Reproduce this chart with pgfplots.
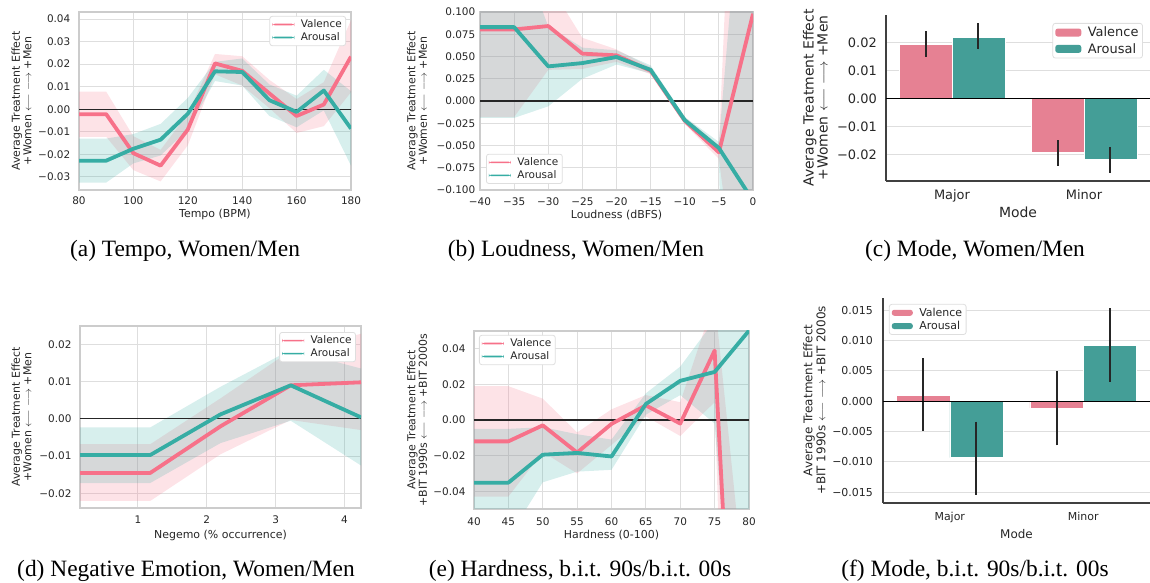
\documentclass[border=0pt]{standalone}
\usepackage{fontspec}
\setmainfont{Liberation Serif}
\newfontfamily\dejavu{DejaVu Sans}
\usepackage{pgfplots}
\usepackage{pgfplotstable}
\pgfplotsset{compat=1.18}
\usepgfplotslibrary{fillbetween}

\definecolor{val}{HTML}{F77189}
\definecolor{aro}{HTML}{36ADA4}
\definecolor{valbar}{HTML}{E68193}
\definecolor{arobar}{HTML}{449E97}
\definecolor{txt}{gray}{0.15}
\definecolor{gridc}{gray}{0.87}
\definecolor{spinec}{gray}{0.80}

% x, valence mean / lower / upper, arousal mean / lower / upper
\pgfplotstableread{
x vm vlo vhi am alo ahi
80 -0.0022 -0.0122 0.0078 -0.0228 -0.0325 -0.0130
90 -0.0022 -0.0122 0.0078 -0.0228 -0.0325 -0.0130
100 -0.0195 -0.0270 -0.0120 -0.0175 -0.0240 -0.0110
110 -0.0250 -0.0320 -0.0180 -0.0135 -0.0205 -0.0065
120 -0.0090 -0.0160 -0.0020 -0.0020 -0.0090 0.0050
130 0.0203 0.0155 0.0245 0.0168 0.0125 0.0210
140 0.0170 0.0105 0.0235 0.0165 0.0105 0.0225
150 0.0070 0.0005 0.0130 0.0040 -0.0030 0.0110
160 -0.0030 -0.0105 0.0045 -0.0012 -0.0080 0.0060
170 0.0021 -0.0075 0.0120 0.0083 -0.0005 0.0175
180 0.0233 0.0075 0.0395 -0.0086 -0.0250 0.0080
}\tempo

\pgfplotstableread{
x vm vlo vhi am alo ahi
-40 0.0804 -0.018 0.178 0.0830 -0.019 0.185
-35 0.0804 -0.018 0.178 0.0830 -0.019 0.185
-30 0.0842 0.035 0.133 0.0389 -0.006 0.084
-25 0.0532 0.036 0.071 0.0426 0.025 0.060
-20 0.0513 0.044 0.058 0.0494 0.041 0.057
-15 0.0340 0.030 0.038 0.0350 0.031 0.040
-10 -0.0223 -0.026 -0.018 -0.0215 -0.025 -0.018
-5 -0.0577 -0.065 -0.050 -0.0528 -0.060 -0.046
0 0.0980 -0.36 0.83 -0.1120 -2.0 0.41
}\loud

\pgfplotstableread{
x vm vlo vhi am alo ahi
0.16 -0.0145 -0.0220 -0.0068 -0.0097 -0.0172 -0.0023
1.18 -0.0145 -0.0220 -0.0068 -0.0097 -0.0172 -0.0023
2.20 -0.0020 -0.0095 0.0055 0.0012 -0.0065 0.0086
3.22 0.0090 -0.0003 0.0183 0.0090 -0.0005 0.0185
4.24 0.0098 -0.0030 0.0228 0.0004 -0.0125 0.0135
}\negemo

\pgfplotstableread{
x vm vlo vhi am alo ahi
40 -0.0120 -0.043 0.019 -0.0352 -0.065 -0.005
45 -0.0120 -0.043 0.019 -0.0352 -0.066 -0.005
50 -0.0030 -0.018 0.012 -0.0195 -0.035 -0.004
55 -0.0183 -0.030 -0.007 -0.0185 -0.029 -0.008
60 -0.0022 -0.014 0.006 -0.0205 -0.028 -0.011
65 0.0082 0.002 0.014 0.0090 0.003 0.015
70 -0.0020 -0.009 0.010 0.0220 0.014 0.030
75 0.0390 0.010 0.068 0.0270 -0.002 0.056
80 -0.3300 -0.600 -0.120 0.0502 -0.250 0.350
}\hard

\pgfplotsset{
  base/.style={
    scale only axis, clip=true,
    scaled x ticks=false, scaled y ticks=false,
    major tick length=0pt, minor tick num=0,
    tick label style={text=txt, inner sep=0pt},
    yticklabel style={anchor=east},
    xticklabel style={anchor=base},
    label style={text=txt},
    xlabel style={at={(axis description cs:0.5,0)}, anchor=base},
    ylabel style={anchor=center, align=center},
    legend cell align=left,
    legend style={draw=black!13, line width=0.8bp, rounded corners=2.5bp,
      fill=white, inner xsep=2.5bp, inner ysep=2bp, row sep=0.5bp,
      nodes={inner sep=1.5bp, text=txt}},
  },
  lp/.style={base,
    axis line style={spinec, line width=1.1bp},
    grid=major, major grid style={gridc, line width=0.9bp},
    tick label style={font=\dejavu\fontsize{10.5}{12}\selectfont},
    label style={font=\dejavu\fontsize{11}{11.5}\selectfont},
    legend style={font=\dejavu\fontsize{10.5}{12}\selectfont},
  },
  bp/.style={base,
    axis x line*=bottom, axis y line*=left,
    axis line style={black!75, line width=1.2bp, -},
    ymajorgrids, major grid style={gridc, line width=0.9bp},
    xmin=-0.5, xmax=1.5, xtick={0,1}, xticklabels={Major,Minor},
  },
  % legend swatches: a thin filled strip for lines, a block for bars
  vline/.style={val, line width=3.8bp, line join=round,
    legend image code/.code={\path[fill=val, draw=none, line width=0pt] (0bp,-0.8bp) rectangle (22bp,0.8bp); \path[draw=none] (27bp,0bp);}},
  aline/.style={aro, line width=3.8bp, line join=round,
    legend image code/.code={\path[fill=aro, draw=none, line width=0pt] (0bp,-0.8bp) rectangle (22bp,0.8bp); \path[draw=none] (27bp,0bp);}},
  errs/.style={error bars/.cd, y dir=both, y explicit, error mark=none,
    error bar style={black!85, line width=2bp}},
  vpatch/.style 2 args={legend image code/.code={\path[fill=valbar, draw=none] (0bp,-#1) rectangle (#2,#1); \path[draw=none] (#2+5bp,0bp);}},
  apatch/.style 2 args={legend image code/.code={\path[fill=arobar, draw=none] (0bp,-#1) rectangle (#2,#1); \path[draw=none] (#2+5bp,0bp);}},
}

% bands, zero line (from #2 to #3) and the two mean curves of one line panel
\newcommand\bands[3]{%
  \addplot[draw=none, name path=vlo, forget plot] table[x=x, y=vlo] {#1};
  \addplot[draw=none, name path=vhi, forget plot] table[x=x, y=vhi] {#1};
  \addplot[draw=none, name path=alo, forget plot] table[x=x, y=alo] {#1};
  \addplot[draw=none, name path=ahi, forget plot] table[x=x, y=ahi] {#1};
  \addplot[fill=val, fill opacity=0.2, draw=none, forget plot] fill between[of=vhi and vlo];
  \addplot[fill=aro, fill opacity=0.2, draw=none, forget plot] fill between[of=ahi and alo];
  \addplot[black!85, line width=1.1bp, forget plot] coordinates {(#2,0) (#3,0)};
  \addplot[vline] table[x=x, y=vm] {#1};
  \addlegendentry{Valence}
  \addplot[aline] table[x=x, y=am] {#1};
  \addlegendentry{Arousal}
}

\begin{document}
\begin{tikzpicture}

% (a) Tempo
\begin{axis}[lp, at={(79bp,393bp)}, anchor=south west, width=272bp, height=178bp,
  xmin=80, xmax=180, ymin=-0.0358, ymax=0.0431,
  xtick={80,100,120,140,160,180}, xticklabels={80,100,120,140,160,180},
  ytick={-0.03,-0.02,-0.01,0,0.01,0.02,0.03,0.04},
  yticklabels={−0.03,−0.02,−0.01,0.00,0.01,0.02,0.03,0.04},
  yticklabel style={xshift=-8.5bp}, xticklabel style={yshift=-15bp},
  xlabel={Tempo (BPM)}, xlabel style={yshift=-28bp},
  ylabel={Average Treatment Effect\\+Women $\longleftarrow$\ $\longrightarrow$ +Men},
  ylabel style={at={(axis description cs:-0.2114,0.5)}},
  legend style={at={(axis description cs:0.982,0.978)}, anchor=north east}]
\bands{\tempo}{80}{180}
\end{axis}

% (b) Loudness
\begin{axis}[lp, at={(480bp,393bp)}, anchor=south west, width=273bp, height=178bp,
  xmin=-40, xmax=0, ymin=-0.1, ymax=0.1,
  xtick={-40,-35,-30,-25,-20,-15,-10,-5,0},
  xticklabels={−40,−35,−30,−25,−20,−15,−10,−5,0},
  ytick={-0.1,-0.075,-0.05,-0.025,0,0.025,0.05,0.075,0.1},
  yticklabels={−0.100,−0.075,−0.050,−0.025,0.000,0.025,0.050,0.075,0.100},
  yticklabel style={xshift=-4.5bp}, xticklabel style={yshift=-15.5bp},
  xlabel={Loudness (dBFS)}, xlabel style={yshift=-29bp},
  ylabel={Average Treatment Effect\\+Women $\longleftarrow$\ $\longrightarrow$ +Men},
  ylabel style={at={(axis description cs:-0.2308,0.5)}},
  legend style={at={(axis description cs:0.022,0.034)}, anchor=south west}]
\bands{\loud}{-40}{0}
\end{axis}

% (c) Mode
\begin{axis}[bp, at={(886bp,402bp)}, anchor=south west, width=264bp, height=166bp,
  ymin=-0.0295, ymax=0.0298,
  ytick={-0.02,-0.01,0,0.01,0.02},
  yticklabels={−0.02,−0.01,0.00,0.01,0.02},
  tick label style={font=\dejavu\fontsize{13}{15}\selectfont},
  label style={font=\dejavu\fontsize{14}{14}\selectfont},
  legend style={font=\dejavu\fontsize{13}{15}\selectfont, row sep=2bp,
    at={(axis description cs:0.973,0.952)}, anchor=north east},
  yticklabel style={xshift=-9bp}, xticklabel style={yshift=-19bp},
  xlabel={Mode}, xlabel style={yshift=-37bp},
  ylabel={Average Treatment Effect\\+Women $\longleftarrow$\ $\longrightarrow$ +Men},
  ylabel style={at={(axis description cs:-0.2670,0.5)}}]
\addplot[ybar, bar width=0.4, bar shift=0pt, fill=valbar, draw=white, line width=0.5bp,
  vpatch={4bp}{26bp}, errs]
  coordinates {(-0.2,0.0193) += (0,0.0047) -= (0,0.0044) (0.8,-0.0193) += (0,0.0044) -= (0,0.0048)};
\addlegendentry{Valence}
\addplot[ybar, bar width=0.4, bar shift=0pt, fill=arobar, draw=white, line width=0.5bp,
  apatch={4bp}{26bp}, errs]
  coordinates {(0.2,0.0218) += (0,0.0050) -= (0,0.0043) (1.2,-0.0218) += (0,0.0045) -= (0,0.0047)};
\addlegendentry{Arousal}
\addplot[black, line width=1.2bp, forget plot] coordinates {(-0.5,0) (1.5,0)};
\end{axis}

% (d) Negative emotion
\begin{axis}[lp, at={(80bp,75bp)}, anchor=south west, width=281bp, height=182bp,
  xmin=0.16, xmax=4.24, ymin=-0.0239, ymax=0.0249,
  xtick={1,2,3,4}, xticklabels={1,2,3,4},
  ytick={-0.02,-0.01,0,0.01,0.02},
  yticklabels={−0.02,−0.01,0.00,0.01,0.02},
  yticklabel style={xshift=-8.3bp}, xticklabel style={yshift=-16bp},
  xlabel={Negemo (\% occurrence)}, xlabel style={yshift=-30.5bp},
  ylabel={Average Treatment Effect\\+Women $\longleftarrow$\ $\longrightarrow$ +Men},
  ylabel style={at={(axis description cs:-0.2082,0.5)}},
  legend style={at={(axis description cs:0.982,0.967)}, anchor=north east}]
\bands{\negemo}{0.16}{4.24}
\end{axis}

% (e) Hardness
\begin{axis}[lp, at={(474bp,74bp)}, anchor=south west, width=275bp, height=178bp,
  xmin=40, xmax=80, ymin=-0.05, ymax=0.05,
  xtick={40,45,50,55,60,65,70,75,80}, xticklabels={40,45,50,55,60,65,70,75,80},
  ytick={-0.04,-0.02,0,0.02,0.04},
  yticklabels={−0.04,−0.02,0.00,0.02,0.04},
  yticklabel style={xshift=-8.3bp}, xticklabel style={yshift=-17bp},
  xlabel={Hardness (0-100)}, xlabel style={yshift=-29.5bp},
  ylabel={Average Treatment Effect\\+BIT 1990s $\longleftarrow$\ $\longrightarrow$ +BIT 2000s},
  ylabel style={at={(axis description cs:-0.2073,0.5)}},
  legend style={at={(axis description cs:0.018,0.978)}, anchor=north west}]
\bands{\hard}{40}{80}
\end{axis}

% (f) Mode
\begin{axis}[bp, at={(883bp,80bp)}, anchor=south west, width=267bp, height=205bp,
  ymin=-0.0168, ymax=0.017,
  ytick={-0.015,-0.01,-0.005,0,0.005,0.01,0.015},
  yticklabels={−0.015,−0.010,−0.005,0.000,0.005,0.010,0.015},
  tick label style={font=\dejavu\fontsize{11}{13}\selectfont},
  label style={font=\dejavu\fontsize{12}{13}\selectfont},
  legend style={font=\dejavu\fontsize{11}{13}\selectfont,
    at={(axis description cs:0.022,0.971)}, anchor=north west},
  yticklabel style={xshift=-10bp}, xticklabel style={yshift=-18bp},
  xlabel={Mode}, xlabel style={yshift=-36bp},
  ylabel={Average Treatment Effect\\+BIT 1990s $\longleftarrow$\ $\longrightarrow$ +BIT 2000s},
  ylabel style={at={(axis description cs:-0.2566,0.5)}}]
\addplot[ybar, bar width=0.4, bar shift=0pt, fill=valbar, draw=white, line width=0.5bp,
  vpatch={3bp}{21bp}, errs]
  coordinates {(-0.2,0.0010) += (0,0.0061) -= (0,0.0059) (0.8,-0.0011) += (0,0.0060) -= (0,0.0062)};
\addlegendentry{Valence}
\addplot[ybar, bar width=0.4, bar shift=0pt, fill=arobar, draw=white, line width=0.5bp,
  apatch={3bp}{21bp}, errs]
  coordinates {(0.2,-0.0093) += (0,0.0059) -= (0,0.0061) (1.2,0.0092) += (0,0.0061) -= (0,0.0060)};
\addlegendentry{Arousal}
\addplot[black, line width=1.2bp, forget plot] coordinates {(-0.5,0) (1.5,0)};
\end{axis}

% sub-captions
\begin{scope}[every node/.style={anchor=base, font=\fontsize{23.5}{28}\selectfont}]
\node at (185bp,326bp) {(a) Tempo, Women/Men};
\node at (576bp,326bp) {(b) Loudness, Women/Men};
\node at (975bp,326bp) {(c) Mode, Women/Men};
\node at (186bp,7bp) {(d) Negative Emotion, Women/Men};
\node at (580bp,7bp) {(e) Hardness, b.i.t. 90s/b.i.t. 00s};
\node at (975bp,7bp) {(f) Mode, b.i.t. 90s/b.i.t. 00s};
\end{scope}

\pgfresetboundingbox
\useasboundingbox (0bp,0bp) rectangle (1150bp,583bp);
\end{tikzpicture}
\end{document}
